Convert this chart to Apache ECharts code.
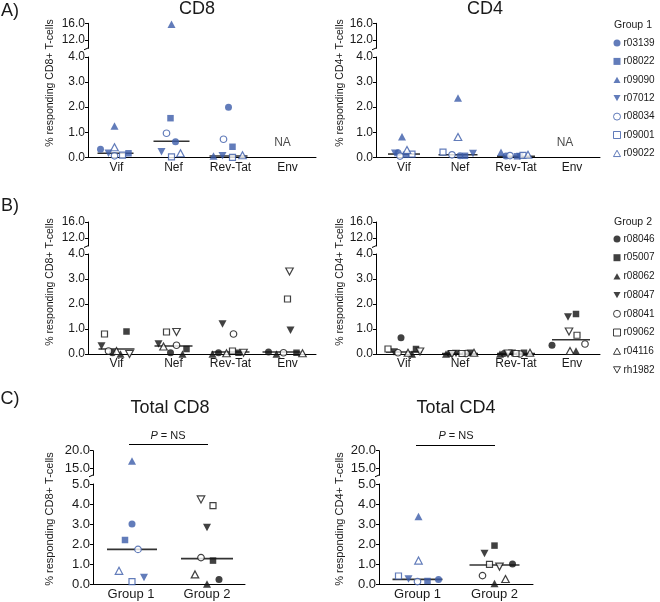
<!DOCTYPE html>
<html><head><meta charset="utf-8">
<script src="https://cdn.jsdelivr.net/npm/echarts@6/dist/echarts.min.js"></script>
<style>html,body{margin:0;padding:0;background:#fff}#c{width:660px;height:602px}</style>
</head><body><div id="c"></div>
<script>
// ================= DATA =================
const antigens = ['Vif', 'Nef', 'Rev-Tat', 'Env'];
const totalCats = ['Group 1', 'Group 2'];
const group1Ids = ['r03139', 'r08022', 'r09090', 'r07012', 'r08034', 'r09001', 'r09022'];
const group2Ids = ['r08046', 'r05007', 'r08062', 'r08047', 'r08041', 'r09062', 'r04116', 'rh1982'];

// Panel A (Group 1), one row per subject: [Vif, Nef, Rev-Tat, Env]
const aCD8 = [
  [0.32, 0.62, 2.00, null],
  [0.16, 1.56, 0.42, null],
  [1.25, 15.8, 0.05, null],
  [0.16, 0.22, 0.06, null],
  [0.06, 0.96, 0.72, null],
  [0.09, 0.02, 0.00, null],
  [0.40, 0.16, 0.08, null]
];
const aCD4 = [
  [0.18, 0.06, 0.05, null],
  [0.10, 0.06, 0.04, null],
  [0.82, 2.36, 0.20, null],
  [0.16, 0.15, 0.03, null],
  [0.05, 0.10, 0.07, null],
  [0.13, 0.21, 0.08, null],
  [0.29, 0.81, 0.10, null]
];
const aCD8Median = [0.16, 0.64, 0.05, null];
const aCD4Median = [0.13, 0.10, 0.04, null];
const naValue = 0.57;   // height of the "NA" note for Env

// Panel B (Group 2)
const bCD8 = [
  [0.05, 0.05, 0.05, 0.08],
  [0.90, 0.20, 0.05, 0.05],
  [0.00, 0.00, 0.00, 0.00],
  [0.32, 0.40, 1.20, 0.95],
  [0.12, 0.35, 0.80, 0.05],
  [0.80, 0.88, 0.12, 2.20],
  [0.12, 0.30, 0.03, 0.03],
  [0.00, 0.88, 0.05, 3.30]
];
const bCD4 = [
  [0.65, 0.02, 0.02, 0.35],
  [0.20, 0.05, 0.05, 1.60],
  [0.00, 0.00, 0.00, 0.12],
  [0.08, 0.02, 0.03, 1.48],
  [0.05, 0.02, 0.00, 0.40],
  [0.20, 0.02, 0.02, 0.75],
  [0.05, 0.05, 0.05, 0.12],
  [0.10, 0.00, 0.02, 0.90]
];
const bCD8Median = [0.20, 0.32, 0.08, 0.08];
const bCD4Median = [0.08, 0.02, 0.02, 0.57];

// Panel C (totals)
const totalCD8G1 = [3.00, 2.20, 17.1, 0.33, 1.73, 0.12, 0.66];
const totalCD8G2 = [0.23, 1.17, 0.00, 2.82, 1.32, 3.92, 0.48, 4.23];
const totalCD4G1 = [0.23, 0.15, 3.37, 0.25, 0.12, 0.40, 1.17];
const totalCD4G2 = [1.00, 1.92, 0.03, 1.53, 0.42, 0.98, 0.25, 0.87];
const totalCD8Median = [1.73, 1.27];
const totalCD4Median = [0.23, 0.95];

const upperTicksAB = [12, 16];
const upperTicksC = [15, 20];
const pText = '{i|P} = NS';

// ================= STYLE / LAYOUT =================
const BLUE = '#3b5ba9';
const BLACK = '#111';
const FONT = 'Liberation Sans, Arial, Helvetica, sans-serif';
const DOWN = 'path://M0,0L10,0L5,9Z';
const UP = 'path://M5,0L10,9L0,9Z';
const g1Sym = ['circle', 'rect', UP, DOWN, 'circle', 'rect', UP];
const g1Open = [false, false, false, false, true, true, true];
const g2Sym = ['circle', 'rect', UP, DOWN, 'circle', 'rect', UP, DOWN];
const g2Open = [false, false, false, false, true, true, true, true];

// horizontal jitter (px) per subject per category
const jA8 = [[-16, 2, -2, 0], [12, -3, 2, 0], [-2, -2, -17, 0], [-8, -12, -8, 0], [-2, -7, -7, 0], [6, -2, 2, 0], [-2, 7, 12, 0]];
const jA4 = [[-6, 0, -10, 0], [2, 5, 1, 0], [-2, -2, -15, 0], [-9, 13, 4, 0], [-4, -8, -6, 0], [8, -17, 7, 0], [3, -2, 12, 0]];
const jB8 = [[-4, -3, -12, -19], [10, 13, 8, 9], [4, 9, -18, -11], [-15, -15, -8, 3], [-8, 3, 3, -4], [-12, -7, 2, 0], [0, -10, -4, 15], [13, 3, 13, 2]];
const jB4 = [[-3, -10, -12, -20], [12, 10, 8, 4], [8, -14, -16, 4], [-10, -4, -4, -4], [-6, 6, 4, 13], [-16, 2, 0, 5], [4, 14, 14, -2], [16, -8, -8, -3]];
const jC8 = [[1, 12], [-6, 6], [1, 0], [13, 0], [7, -6], [1, 6], [-12, -12], [0, -6]];
const jC4 = [[21, 18], [10, 0], [1, 0], [-9, -10], [0, -12], [-19, -5], [1, 11], [0, 5]];
const medA8 = {w: [36, 36, 38, 0], off: [-1, -2, -2, 0]};
const medA4 = {w: [32, 39, 38, 0], off: [0, -2, 0, 0]};
const medB8 = {w: [36, 38, 38, 38], off: [0, 0, 0, -6]};
const medB4 = {w: [36, 36, 38, 38], off: [0, 0, 0, -1]};
const medC8 = {w: [50, 52], off: [1, 0]};
const medC4 = {w: [50, 50], off: [0, 0]};

function symSize(sym, open) {
  if (sym === 'circle') return open ? 6.5 : 7;
  if (sym === 'rect') return open ? 6 : 6.5;
  return open ? [7.5, 7] : [8, 7.5];
}
function itemStyle(open, color) {
  return open ? {color: '#fff', borderColor: color, borderWidth: 1.2} : {color: color, borderWidth: 0};
}

// grids: [low, high] per panel
const grids = [
  {left: 88, top: 57, width: 228, height: 100.3},
  {left: 88, top: 23.3, width: 228, height: 25},
  {left: 376, top: 57, width: 224, height: 100.3},
  {left: 376, top: 23.3, width: 224, height: 25},
  {left: 88, top: 254, width: 228, height: 100},
  {left: 88, top: 222, width: 228, height: 24},
  {left: 376, top: 254, width: 224, height: 100},
  {left: 376, top: 222, width: 224, height: 24},
  {left: 93, top: 484, width: 152, height: 100},
  {left: 93, top: 450.7, width: 152, height: 24.6},
  {left: 379, top: 484, width: 154, height: 100},
  {left: 379, top: 450.7, width: 154, height: 24.6}
];
const axisLineStyle = {color: '#000', width: 1};
const xAxes = [], yAxes = [];
grids.forEach((g, i) => {
  const low = i % 2 === 0;
  const isC = i >= 8;
  const cats = isC ? totalCats : antigens;
  xAxes.push({
    type: 'category', gridIndex: i, data: cats, show: low,
    axisLine: {lineStyle: axisLineStyle},
    axisTick: {alignWithLabel: true, length: 3, lineStyle: axisLineStyle},
    axisLabel: {color: '#1a1a1a', fontFamily: FONT, fontSize: isC ? 13 : 12, margin: 4}
  });
  const ax = {
    type: 'value', gridIndex: i, splitLine: {show: false},
    axisLine: {show: true, lineStyle: axisLineStyle},
    axisTick: {show: true, length: 3, lineStyle: axisLineStyle},
    axisLabel: {color: '#1a1a1a', fontFamily: FONT, fontSize: isC ? 13 : 12, margin: 3,
      formatter: v => v.toFixed(1)}
  };
  if (low) {
    Object.assign(ax, {min: 0, max: isC ? 5 : 4, interval: 1});
  } else {
    const ticks = isC ? upperTicksC : upperTicksAB;
    Object.assign(ax, {min: isC ? 13 : 10, max: isC ? 20 : 16});
    ax.axisLabel.customValues = ticks;
    ax.axisTick.customValues = ticks;
  }
  yAxes.push(ax);
});

const series = [];
function addSubjects(values, ids, syms, opens, color, jit, gLow, lowMax, cats) {
  ids.forEach((id, i) => {
    const lowData = [], highData = [];
    cats.forEach((c, j) => {
      const v = values[i][j];
      if (v === null || v === undefined) return;
      const item = {value: [c, v], symbolOffset: [jit[i][j], 0]};
      (v > lowMax ? highData : lowData).push(item);
    });
    [[gLow, lowData], [gLow + 1, highData]].forEach(([g, d]) => {
      if (!d.length) return;
      series.push({
        type: 'scatter', name: id, xAxisIndex: g, yAxisIndex: g,
        symbol: syms[i], symbolSize: symSize(syms[i], opens[i]),
        itemStyle: itemStyle(opens[i], color), data: d, z: 3, silent: true
      });
    });
  });
}
function addMedians(med, st, g, cats) {
  const d = [];
  cats.forEach((c, j) => {
    if (med[j] === null) return;
    d.push({value: [c, med[j]], symbolSize: [st.w[j], 1.6], symbolOffset: [st.off[j], 0]});
  });
  series.push({type: 'scatter', xAxisIndex: g, yAxisIndex: g, symbol: 'rect',
    itemStyle: {color: '#000'}, data: d, z: 2, silent: true});
}
function addNA(g, dx) {
  series.push({type: 'scatter', xAxisIndex: g, yAxisIndex: g, symbolSize: 1,
    itemStyle: {color: 'transparent'}, silent: true,
    label: {show: true, position: 'inside', formatter: 'NA', offset: [dx, 0],
      color: '#1a1a1a', fontFamily: FONT, fontSize: 12},
    data: [[antigens[3], naValue]]});
}

// Panel A
addSubjects(aCD8, group1Ids, g1Sym, g1Open, BLUE, jA8, 0, 4, antigens);
addMedians(aCD8Median, medA8, 0, antigens);
addNA(0, -5);
addSubjects(aCD4, group1Ids, g1Sym, g1Open, BLUE, jA4, 2, 4, antigens);
addMedians(aCD4Median, medA4, 2, antigens);
addNA(2, -7);
// Panel B
addSubjects(bCD8, group2Ids, g2Sym, g2Open, BLACK, jB8, 4, 4, antigens);
addMedians(bCD8Median, medB8, 4, antigens);
addSubjects(bCD4, group2Ids, g2Sym, g2Open, BLACK, jB4, 6, 4, antigens);
addMedians(bCD4Median, medB4, 6, antigens);
// Panel C
function addTotals(g1, g2, jit, gLow) {
  addSubjects(g1.map(v => [v, null]), group1Ids, g1Sym, g1Open, BLUE, jit, gLow, 5, totalCats);
  addSubjects(g2.map(v => [null, v]), group2Ids, g2Sym, g2Open, BLACK, jit, gLow, 5, totalCats);
}
addTotals(totalCD8G1, totalCD8G2, jC8, 8);
addMedians(totalCD8Median, medC8, 8, totalCats);
addTotals(totalCD4G1, totalCD4G2, jC4, 10);
addMedians(totalCD4Median, medC4, 10, totalCats);

// ---- text / annotations ----
const txt = (x, y, text, size, extra) => Object.assign({
  type: 'text', x: x, y: y, silent: true,
  style: Object.assign({text: text, fontSize: size, fontFamily: FONT, fill: '#1a1a1a',
    textAlign: 'center', textVerticalAlign: 'middle'}, (extra && extra.style) || {})
}, extra && extra.rotation !== undefined ? {rotation: extra.rotation} : {});
const yName8 = '% responding CD8+ T-cells';
const yName4 = '% responding CD4+ T-cells';
const R = Math.PI / 2;
const graphics = [
  txt(10, 11, 'A)', 18), txt(10, 206, 'B)', 18), txt(10, 399, 'C)', 18),
  txt(197, 9, 'CD8', 18), txt(485, 9, 'CD4', 18),
  txt(170, 408, 'Total CD8', 18), txt(456, 408, 'Total CD4', 18),
  txt(50, 83, yName8, 10.5, {rotation: R}), txt(340, 83, yName4, 10.5, {rotation: R}),
  txt(50, 282, yName8, 10.5, {rotation: R}), txt(340, 282, yName4, 10.5, {rotation: R}),
  txt(50, 519, yName8, 11, {rotation: R}), txt(340, 519, yName4, 11, {rotation: R}),
  txt(633, 25, 'Group 1', 10.5), txt(633, 222, 'Group 2', 10.5),
  txt(168, 436, pText, 11, {style: {rich: {i: {fontStyle: 'italic', fontSize: 11, fontFamily: FONT}}}}),
  txt(456, 436, pText, 11, {style: {rich: {i: {fontStyle: 'italic', fontSize: 11, fontFamily: FONT}}}}),
  {type: 'line', silent: true, shape: {x1: 129, y1: 444.5, x2: 208, y2: 444.5}, style: {stroke: '#000', lineWidth: 1}},
  {type: 'line', silent: true, shape: {x1: 416, y1: 445.5, x2: 495, y2: 445.5}, style: {stroke: '#000', lineWidth: 1}}
];
// small break marks at the bottom of each upper axis segment
[1, 3, 5, 7, 9, 11].forEach(i => {
  const g = grids[i];
  const y = g.top + g.height;
  graphics.push({type: 'line', silent: true,
    shape: {x1: g.left - 4, y1: y + 1.5, x2: g.left + 0.5, y2: y - 0.5},
    style: {stroke: '#000', lineWidth: 1}});
});

const legendBase = {
  orient: 'vertical', left: 608, padding: 5, itemWidth: 7, itemHeight: 7, selectedMode: false,
  textStyle: {fontSize: 10, color: '#1a1a1a', fontFamily: FONT, lineHeight: 12, padding: [0, 0, 0, -2]}
};
const legendData = (ids, opens) => ids.map((id, i) => opens[i]
  ? {name: id, itemStyle: {borderWidth: 1}}
  : {name: id});

const chart = echarts.init(document.getElementById('c'), null, {renderer: 'canvas'});
chart.setOption({
  animation: false,
  backgroundColor: '#fff',
  grid: grids,
  xAxis: xAxes,
  yAxis: yAxes,
  legend: [
    Object.assign({}, legendBase, {data: legendData(group1Ids, g1Open), top: 32, itemGap: 6.4}),
    Object.assign({}, legendBase, {data: legendData(group2Ids, g2Open), top: 228, itemGap: 6.7})
  ],
  series: series,
  graphic: graphics
});
</script>
</body></html>
